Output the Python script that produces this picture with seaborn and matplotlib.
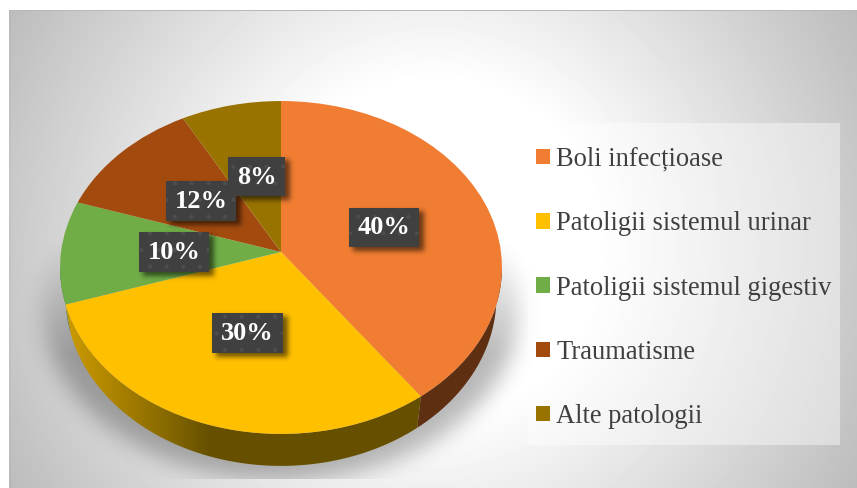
import numpy as np
import matplotlib
matplotlib.use('Agg')
import matplotlib.pyplot as plt
import matplotlib.transforms as mtransforms
from matplotlib.colors import to_rgb
from matplotlib.patches import Patch, Polygon, Rectangle
import seaborn as sns

categories = ['Boli infecțioase', 'Patoligii sistemul urinar', 'Patoligii sistemul gigestiv',
              'Traumatisme', 'Alte patologii']
shares = [40, 30, 10, 12, 8]

W, H = 857, 488
CX, CY = 281, 252      # where the slices meet
RX, RY, K = 220, 165, 0.093
DEPTH = 29
SERIF = 'Liberation Serif'

sns.set_theme(style='white')
plt.rcParams['font.family'] = SERIF
plt.rcParams['hatch.linewidth'] = 0.5
palette = sns.color_palette(['#F07D31', '#FFC000', '#70AD47', '#A34B0F', '#997300'])

# label boxes in pixels: left, top, right, bottom
LABEL_BOXES = [(349, 208, 419, 247), (212, 313, 283, 353), (139, 232, 209, 272),
               (166, 181, 236, 221), (228, 157, 285, 196)]


def tilt(xy):
    xy = np.asarray(xy, dtype=float)
    s = 1 / (1 + K * xy[:, 1])
    return np.column_stack([CX + RX * xy[:, 0] * s, CY - RY * xy[:, 1] * s])


class Tilt(mtransforms.Transform):
    input_dims = 2
    output_dims = 2

    def transform_non_affine(self, values):
        return tilt(values)


def rim(a, b, n=120):
    # clockwise degrees from the top of the disc
    t = np.radians(np.linspace(a, b, n))
    return tilt(np.column_stack([np.sin(t), np.cos(t)]))


def wall(a, b):
    top = rim(a, b)
    s = 1 / (1 + K * np.cos(np.radians(np.linspace(a, b, len(top)))))
    # lower rim sits further away, so it is a little narrower
    low = np.column_stack([CX + (top[:, 0] - CX) * 0.975, top[:, 1] + DEPTH * s])
    return np.vstack([top, low[::-1]])


def blur(img, sigma):
    x = np.arange(-int(3 * sigma), int(3 * sigma) + 1)
    kernel = np.exp(-x ** 2 / (2 * sigma ** 2))
    kernel /= kernel.sum()
    img = np.apply_along_axis(lambda r: np.convolve(r, kernel, mode='same'), 0, img)
    return np.apply_along_axis(lambda r: np.convolve(r, kernel, mode='same'), 1, img)


def grey_layer(alpha):
    layer = np.zeros((H, W, 4))
    layer[..., 3] = alpha
    return layer


fig = plt.figure(figsize=(W / 100, H / 100), dpi=100)
ax = fig.add_axes([0, 0, 1, 1])
extent = (0, W, H, 0)
yy, xx = np.mgrid[0:H, 0:W] + 0.5

# ── Slide background ──────────────────────────────────────────────────────
r = np.hypot(xx - 433, yy - 248)
bg = np.clip(255 - 0.21 * np.clip(r - 167, 0, None), 0, 255) / 255
bg[xx < 11] -= 0.02
bg[yy < 11] = 0.72
bg[yy < 10] = 1
bg[xx < 9] = 1
ax.imshow(bg, cmap='gray', vmin=0, vmax=1, extent=extent, aspect='auto', zorder=0)

# ── Floor shadow under the pie ────────────────────────────────────────────
floor = (((xx - 281) / 238) ** 2 + ((yy - 308) / 172) ** 2 < 1).astype(float)
floor = blur(floor, 11) * np.clip((yy - 235) / 120, 0, 1)
floor[yy > 479] = 0
ax.imshow(grey_layer(floor * 0.28), extent=extent, aspect='auto', zorder=1)

# ── Legend panel ──────────────────────────────────────────────────────────
ax.add_patch(Rectangle((528, 123), 312, 322, fc='white', ec='none', alpha=0.42, zorder=2))

# ── Pie and its side wall ─────────────────────────────────────────────────
wedges, _ = ax.pie(shares, colors=palette, startangle=90, counterclock=False,
                   wedgeprops={'linewidth': 0, 'zorder': 4})
for w in wedges:
    w.set_transform(Tilt() + ax.transData)

ends = np.cumsum(shares) * 3.6
side_x = np.degrees(np.arccos(-K))   # where the disc outline turns vertical
ax.add_patch(Polygon(wall(side_x, ends[0]), fc='#5F2F12', ec='none', zorder=3))
ax.add_patch(Polygon(wall(ends[1], 360 - side_x), fc='#4F7A30', ec='none', zorder=3))
yellow = Polygon(wall(ends[0], ends[1]), fc='none', ec='none', zorder=3, transform=ax.transData)
ax.add_patch(yellow)
stops_x = [60, 97, 163, 210, 430]
stops_c = np.array([to_rgb(c) for c in ['#D09D00', '#B88C00', '#8A6B00', '#665000', '#665000']])
grad_x = np.linspace(60, 430, 371)
grad = np.stack([np.interp(grad_x, stops_x, stops_c[:, i]) for i in range(3)], axis=-1)[None, :, :]
im = ax.imshow(grad, extent=(60, 430, 480, 290), aspect='auto', zorder=3)
im.set_clip_path(yellow)

# ── Data labels ───────────────────────────────────────────────────────────
box_shadow = np.zeros((H, W))
for x0, y0, x1, y1 in LABEL_BOXES:
    box_shadow[y0 + 3:y1 + 4, x0 + 4:x1 + 5] = 1
ax.imshow(grey_layer(blur(box_shadow, 2.5) * 0.55), extent=extent, aspect='auto', zorder=5)

for i, (value, (x0, y0, x1, y1)) in enumerate(zip(shares, LABEL_BOXES)):
    ax.add_patch(Rectangle((x0, y0), x1 - x0, y1 - y0, fc='#404040', ec='#4E4E4E', lw=0,
                           hatch='.', zorder=6 + i))
    ax.text((x0 + x1) / 2, (y0 + y1) / 2 + 0.5, f'{value}%', color='white', fontsize=19,
            fontweight='bold', ha='center', va='center', family=SERIF, zorder=6 + i)

# ── Legend ────────────────────────────────────────────────────────────────
handles = [Patch(fc=c, ec='none') for c in palette]
ax.legend(handles, categories, loc='upper left', bbox_to_anchor=(536, 147),
          bbox_transform=ax.transData, frameon=False, fontsize=19.1, labelcolor='#404040',
          handlelength=0.53, handleheight=0.53, handletextpad=0.23, labelspacing=1.48,
          borderpad=0, borderaxespad=0)

ax.set_xlim(0, W)
ax.set_ylim(H, 0)
ax.set_aspect('auto')
ax.axis('off')

fig.savefig('out.png', dpi=100)
